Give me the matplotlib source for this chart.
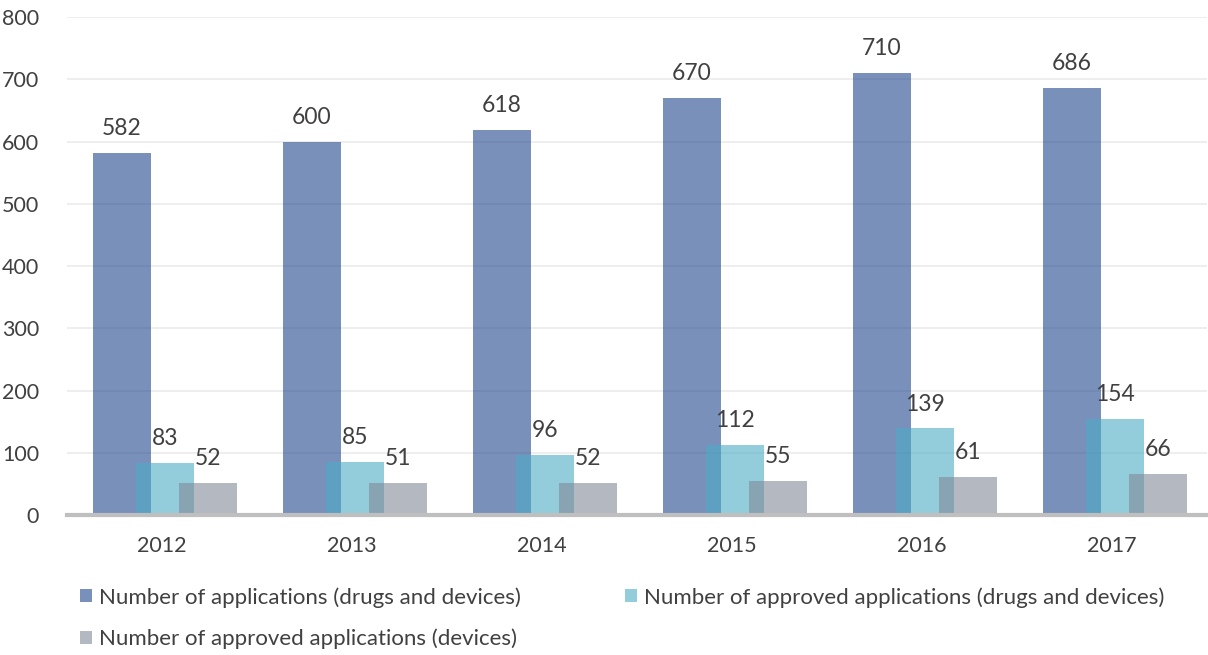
import matplotlib
matplotlib.use("Agg")
import matplotlib.pyplot as plt
import numpy as np

plt.rcParams['font.family'] = ['Lato', 'DejaVu Sans']

years = ['2012', '2013', '2014', '2015', '2016', '2017']
applications = [582, 600, 618, 670, 710, 686]
approved_all = [83, 85, 96, 112, 139, 154]
approved_devices = [52, 51, 52, 55, 61, 66]
series_names = ['Number of applications (drugs and devices)',
                'Number of approved applications (drugs and devices)',
                'Number of approved applications (devices)']

fig = plt.figure(figsize=(12.08, 6.55), dpi=100)
ax = fig.add_axes([67 / 1208, 0.2137, 1140 / 1208, 0.7603])

x = np.arange(len(years))
w = 0.305
text_color = '#404040'

b1 = ax.bar(x - 0.213, applications, w, color='#1E468C', alpha=0.6, zorder=2, label=series_names[0])
b2 = ax.bar(x + 0.016, approved_all, w, color='#4BACC6', alpha=0.6, zorder=3, label=series_names[1])
b3 = ax.bar(x + 0.242, approved_devices, w, color='#828A96', alpha=0.6, zorder=4, label=series_names[2])

for bars, vals in ((b1, applications), (b2, approved_all), (b3, approved_devices)):
    for r, v in zip(bars, vals):
        ax.annotate(str(v), (r.get_x() + r.get_width() / 2, v), xytext=(0, 10),
                    textcoords='offset points', ha='center', va='bottom',
                    fontsize=16.5, color=text_color, zorder=5)

ax.set_xlim(-0.5, len(years) - 0.5)
ax.set_ylim(0, 800)
ax.set_yticks(range(0, 801, 100))
ax.set_xticks(x)
ax.set_xticklabels(years)
ax.tick_params(axis='both', length=0, labelsize=15.5, colors=text_color)
ax.tick_params(axis='x', pad=15)
ax.tick_params(axis='y', pad=20)
ax.grid(axis='y', color='#EBEBEB', linewidth=1.2, zorder=0)
ax.set_axisbelow(True)
for s in ['top', 'right', 'left']:
    ax.spines[s].set_visible(False)
ax.spines['bottom'].set_color('#BFBFBF')
ax.spines['bottom'].set_linewidth(3)
ax.spines['bottom'].set_zorder(6)

handles = [b1, b3, b2]
labels = [series_names[0], series_names[2], series_names[1]]
leg = fig.legend(handles, labels, loc='upper left',
                 ncol=2, frameon=False, fontsize=16, handlelength=0.55, handleheight=0.55,
                 handletextpad=0.3, columnspacing=4.7, labelspacing=0.95,
                 borderaxespad=0, borderpad=0)
leg.set_bbox_to_anchor((80 / 1208, 1 - 587 / 655), transform=fig.transFigure)
for t in leg.get_texts():
    t.set_color(text_color)

fig.savefig('out.png', dpi=100)
